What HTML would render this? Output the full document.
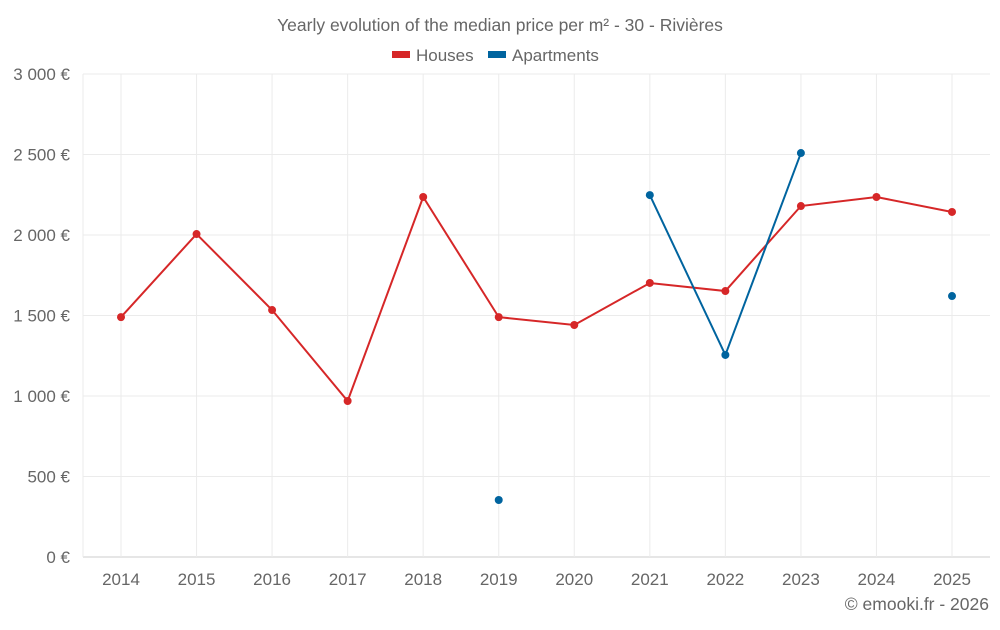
<!DOCTYPE html>
<html><head><meta charset="utf-8"><style>
body{margin:0;background:#fff;font-family:"Liberation Sans",sans-serif;}
svg text{font-family:"Liberation Sans",sans-serif;}
</style></head><body>
<svg id="c" width="1000" height="625">
<text x="500" y="31" text-anchor="middle" font-size="17.5" fill="#666">Yearly evolution of the median price per m² - 30 - Rivières</text>
<g><rect x="392" y="51" width="18" height="7" fill="#d62728"/><text x="416" y="61" font-size="17" fill="#666">Houses</text></g>
<g><rect x="488" y="51" width="18" height="7" fill="#00649f"/><text x="512" y="61" font-size="17" fill="#666">Apartments</text></g>
<g id="grid"></g><g id="marks"></g>
<text x="989" y="610" text-anchor="end" font-size="17.5" fill="#666">© emooki.fr - 2026</text>
</svg>
<script>
const years=[2014,2015,2016,2017,2018,2019,2020,2021,2022,2023,2024,2025];
const houses=[1490,2006,1534,969,2236,1490,1441,1702,1652,2180,2236,2143];
const apartments=[null,null,null,null,null,354,null,2248,1255,2509,null,1621];
const yTicks=[0,500,1000,1500,2000,2500,3000];
const yLabels=["0 €","500 €","1 000 €","1 500 €","2 000 €","2 500 €","3 000 €"];
const NS="http://www.w3.org/2000/svg";
const L=83,R=990,T=74,B=557;
const x=i=>121+i*(952-121)/(years.length-1);
const y=v=>B-(v/3000)*(B-T);
function mk(t,a,p){const e=document.createElementNS(NS,t);for(const k in a)e.setAttribute(k,a[k]);p.appendChild(e);return e;}
const g=document.getElementById('grid'),m=document.getElementById('marks');
yTicks.forEach((v,i)=>{
 const ln=mk('line',{x1:L,x2:R,y1:y(v),y2:y(v),stroke:v===0?'#ccc':'#ebebeb'},g);
 
 
 const t=mk('text',{x:70,y:y(v)+6,'text-anchor':'end','font-size':17,fill:'#666'},g);t.textContent=yLabels[i];
 
 
});
mk('line',{x1:L,x2:L,y1:T,y2:B,stroke:'#ebebeb'},g);
years.forEach((yr,i)=>{
 const ln=mk('line',{x1:x(i),x2:x(i),y1:T,y2:B,stroke:'#ebebeb'},g);
 
 
 const t=mk('text',{x:x(i),y:585,'text-anchor':'middle','font-size':17,fill:'#666'},g);t.textContent=yr;
 
 
});
function series(vals,col,name){
 let d='',pen=false;
 vals.forEach((v,i)=>{if(v==null){pen=false;return;}d+=(pen?'L':'M')+x(i)+' '+y(v);pen=true;});
 const p=mk('path',{d:d,fill:'none',stroke:col,'stroke-width':2},m);
 
 
 vals.forEach((v,i)=>{if(v==null)return;
  const c=mk('circle',{cx:x(i),cy:y(v),r:4,fill:col},m);
  
  
 });
}
series(houses,'#d62728','houses');
series(apartments,'#00649f','apartments');
</script>
</body></html>
